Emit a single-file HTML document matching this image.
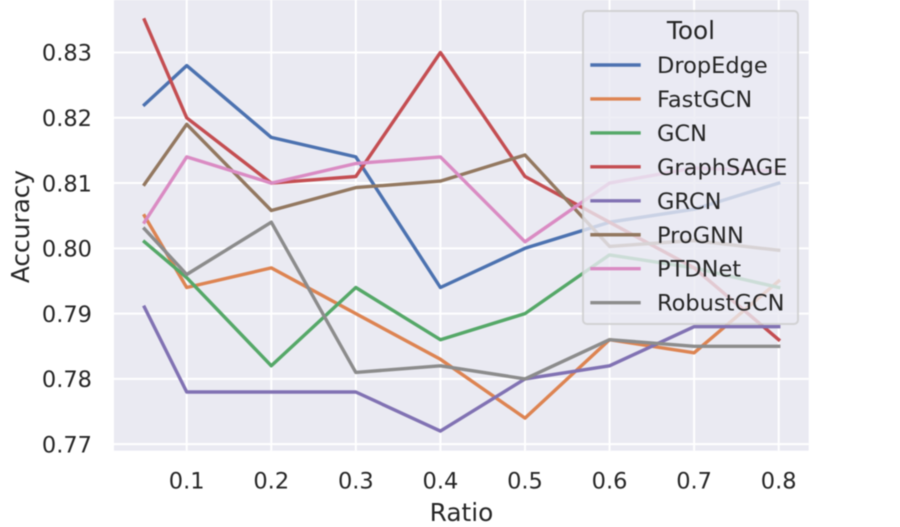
<!DOCTYPE html>
<html>
<head>
<meta charset="utf-8">
<style>
html,body{margin:0;padding:0;background:#fff;width:900px;height:527px;overflow:hidden}
svg{display:block;filter:blur(0.4px)}
text{font-family:"DejaVu Sans","Liberation Sans",sans-serif;fill:#262626}
</style>
</head>
<body>
<svg id="chart" xmlns="http://www.w3.org/2000/svg" width="900" height="527" viewBox="0 0 900 527"></svg>
<script>
const ratios = [0.05, 0.1, 0.2, 0.3, 0.4, 0.5, 0.6, 0.7, 0.8];
const xTicks = [0.1, 0.2, 0.3, 0.4, 0.5, 0.6, 0.7, 0.8];
const yTicks = [0.77, 0.78, 0.79, 0.80, 0.81, 0.82, 0.83];
const toolNames = ["DropEdge", "FastGCN", "GCN", "GraphSAGE", "GRCN", "ProGNN", "PTDNet", "RobustGCN"];
const toolColors = ["#4c72b0", "#dd8452", "#55a868", "#c44e52", "#8172b3", "#937860", "#da8bc3", "#8c8c8c"];
const dropEdge = [0.822, 0.828, 0.817, 0.814, 0.794, 0.800, 0.804, 0.806, 0.810];
const fastGCN = [0.805, 0.794, 0.797, 0.790, 0.783, 0.774, 0.786, 0.784, 0.795];
const gcn = [0.801, 0.7955, 0.782, 0.794, 0.786, 0.790, 0.799, 0.797, 0.794];
const graphSAGE = [0.835, 0.820, 0.810, 0.811, 0.830, 0.811, 0.804, 0.797, 0.786];
const grcn = [0.791, 0.778, 0.778, 0.778, 0.772, 0.780, 0.782, 0.788, 0.788];
const proGNN = [0.8098, 0.819, 0.8058, 0.8093, 0.8103, 0.8143, 0.8003, 0.8012, 0.7997];
const ptdNet = [0.804, 0.814, 0.810, 0.813, 0.814, 0.801, 0.810, 0.8123, 0.8118];
const robustGCN = [0.803, 0.796, 0.804, 0.781, 0.782, 0.780, 0.786, 0.785, 0.785];
const seriesValues = [dropEdge, fastGCN, gcn, graphSAGE, grcn, proGNN, ptdNet, robustGCN];

const NS = "http://www.w3.org/2000/svg";
const svg = document.getElementById("chart");
const plotLeft = 114, plotRight = 808.7, plotTop = 0, plotBottom = 450.7;
function xScale(v){ return 186.7 + (v - 0.1) * 845.7; }
function yScale(v){ return 52.5 + (0.83 - v) * 6528; }
function make(tag, attrs){
  const el = document.createElementNS(NS, tag);
  for (const k in attrs) el.setAttribute(k, attrs[k]);
  return el;
}

const bg = make("rect", {x: plotLeft, y: plotTop, width: plotRight - plotLeft, height: plotBottom - plotTop, fill: "#eaeaf2"});


svg.appendChild(bg);

xTicks.forEach(function(t){
  const x = xScale(t);
  const g = make("line", {x1: x, x2: x, y1: plotTop, y2: plotBottom, stroke: "#fff", "stroke-width": 2});
  
  
  svg.appendChild(g);
  const lab = make("text", {x: x, y: 488.5, "text-anchor": "middle", "font-size": 22.5});
  
  
  lab.textContent = t.toFixed(1);
  svg.appendChild(lab);
});
yTicks.forEach(function(t){
  const y = yScale(t);
  const g = make("line", {x1: plotLeft, x2: plotRight, y1: y, y2: y, stroke: "#fff", "stroke-width": 2});
  
  
  svg.appendChild(g);
  const lab = make("text", {x: 92, y: y + 8.2, "text-anchor": "end", "font-size": 22.5});
  
  
  lab.textContent = t.toFixed(2);
  svg.appendChild(lab);
});

seriesValues.forEach(function(vals, i){
  const pts = vals.map(function(v, j){ return xScale(ratios[j]).toFixed(1) + "," + yScale(v).toFixed(1); }).join(" ");
  const line = make("polyline", {points: pts, fill: "none", stroke: toolColors[i], "stroke-width": 3.4, "stroke-linejoin": "round", "stroke-linecap": "square"});
  
  
  svg.appendChild(line);
});

const xTitle = make("text", {x: 461.5, y: 521, "text-anchor": "middle", "font-size": 24.8});


xTitle.textContent = "Ratio";
svg.appendChild(xTitle);

const yTitle = make("text", {x: 0, y: 0, "text-anchor": "middle", "font-size": 24.8, transform: "translate(29,226.5) rotate(-90)"});


yTitle.textContent = "Accuracy";
svg.appendChild(yTitle);

const legend = make("g", {});


svg.appendChild(legend);
const frame = make("rect", {x: 583, y: 11, width: 215, height: 313, rx: 4, ry: 4, fill: "#eaeaf2", "fill-opacity": 0.8, stroke: "#cccccc", "stroke-opacity": 0.8, "stroke-width": 2});


legend.appendChild(frame);
const legendTitle = make("text", {x: 691, y: 39, "text-anchor": "middle", "font-size": 24.8});


legendTitle.textContent = "Tool";
legend.appendChild(legendTitle);
toolNames.forEach(function(name, i){
  const y = 65 + i * 33.95;
  const sw = make("line", {x1: 592, x2: 639, y1: y, y2: y, stroke: toolColors[i], "stroke-width": 3.4, "stroke-linecap": "square"});
  
  
  legend.appendChild(sw);
  const lab = make("text", {x: 657, y: y + 8, "font-size": 22.5});
  
  
  lab.textContent = name;
  legend.appendChild(lab);
});
</script>
</body>
</html>
